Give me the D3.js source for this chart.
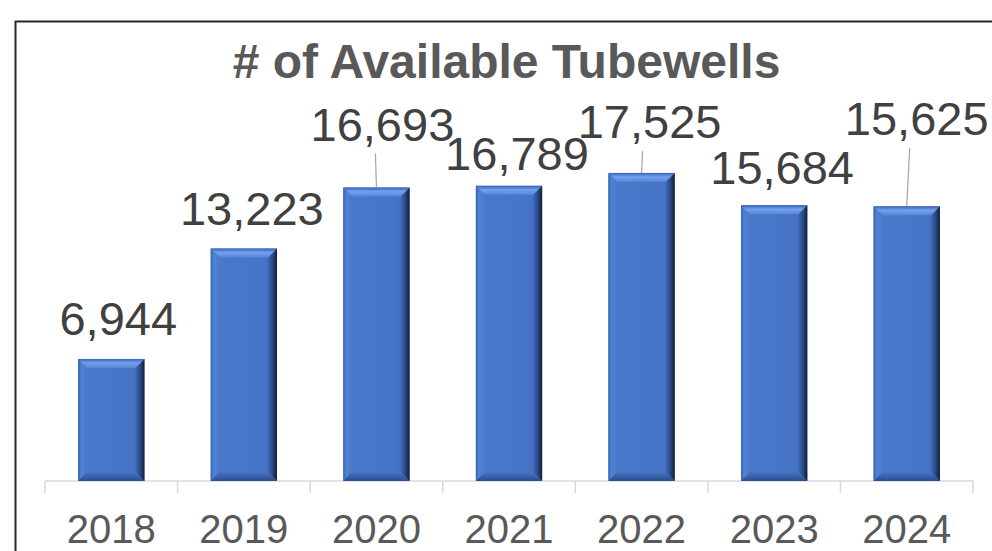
<!DOCTYPE html>
<html>
<head>
<meta charset="utf-8">
<script src="https://cdn.jsdelivr.net/npm/d3@7"></script>
<style>
  html, body { margin: 0; padding: 0; background: #fff; }
  svg { display: block; }
</style>
</head>
<body>
<svg id="chart" width="992" height="551"></svg>
<script>
// ---- data ----
const title = "# of Available Tubewells";
const years = ["2018", "2019", "2020", "2021", "2022", "2023", "2024"];
const tubewells = [6944, 13223, 16693, 16789, 17525, 15684, 15625];

// ---- layout (label placement as in the reference, relative to bar top/centre) ----
const labelDx = [7, 8, 6, 8, 8, 8, 10];
const labelDy = [-24, -24, -47, -16, -35, -21, -71];
const hasLeader = [false, false, true, false, true, false, true];

const W = 992, H = 551;
const svg = d3.select("#chart");

const x = d3.scaleBand().domain(years).range([45, 973]).paddingInner(0.5).paddingOuter(0.25);
const y = d3.scaleLinear().domain([0, 20000]).range([481, 129.4]);
const fmt = d3.format(",");

// background + border
svg.append("rect").attr("width", W).attr("height", H).attr("fill", "#fff");
svg.append("rect").attr("x", 15.5).attr("y", 21.5).attr("width", W + 20).attr("height", H + 20)
  .attr("fill", "none").attr("stroke", "#262626").attr("stroke-width", 2);

// gradients for bevelled bars
const defs = svg.append("defs");
function grad(id, x2, y2, stops) {
  const g = defs.append("linearGradient").attr("id", id)
    .attr("x1", 0).attr("y1", 0).attr("x2", x2).attr("y2", y2);
  stops.forEach(s => g.append("stop").attr("offset", s[0]).attr("stop-color", s[1]));
}
grad("gTop", 0, 1, [[0, "#3a63b5"], [0.45, "#72a1ee"], [1, "#5585d8"]]);
grad("gLeft", 1, 0, [[0, "#3863b4"], [0.35, "#5282d4"], [1, "#4a79cc"]]);
grad("gRight", 1, 0, [[0, "#3f69b8"], [0.5, "#2b4b88"], [1, "#111d38"]]);
grad("gBot", 0, 1, [[0, "#4674c4"], [1, "#2c4d8e"]]);
grad("gFace", 1, 0, [[0, "#4a79cc"], [0.8, "#4674c7"], [1, "#3f69b8"]]);

// axis line + ticks
const axisG = svg.append("g");
axisG.append("line")
  .attr("x1", x.range()[0]).attr("x2", x.range()[1])
  .attr("y1", y(0)).attr("y2", y(0))
  .attr("stroke", "#d9d9d9").attr("stroke-width", 1.5);
const gapHalf = (x.step() - x.bandwidth()) / 2;
const tickXs = years.map(d => x(d) - gapHalf).concat([x(years[years.length - 1]) + x.bandwidth() + gapHalf]);
axisG.selectAll("line.tick").data(tickXs).join("line").attr("class", "tick")
  .attr("x1", d => d).attr("x2", d => d)
  .attr("y1", y(0)).attr("y2", y(0) + 12)
  .attr("stroke", "#d9d9d9").attr("stroke-width", 1.5);
axisG.selectAll("text").data(years).join("text")
  .attr("x", d => x(d) + x.bandwidth() / 2)
  .attr("y", 543)
  .attr("text-anchor", "middle")
  .attr("font-family", "Liberation Sans, Arial, sans-serif")
  .attr("font-size", 40)
  .attr("fill", "#595959")
  .text(d => d);

// bars
const b = 9;
const data = years.map((d, i) => ({ year: d, v: tubewells[i], i }));
const bars = svg.append("g").selectAll("g").data(data).join("g");
bars.each(function (d) {
  const g = d3.select(this);
  const x0 = x(d.year), w = x.bandwidth(), y0 = y(d.v), h = y(0) - y(d.v);
  const x1 = x0 + w, y1 = y0 + h;
  g.append("rect").attr("x", x0).attr("y", y0).attr("width", w).attr("height", h).attr("fill", "url(#gFace)");
  const poly = (pts, fill) => g.append("polygon").attr("points", pts.map(p => p.join(",")).join(" ")).attr("fill", fill);
  poly([[x0, y0], [x0 + b, y0 + b], [x0 + b, y1 - b], [x0, y1]], "url(#gLeft)");
  poly([[x1, y0], [x1, y1], [x1 - b, y1 - b], [x1 - b, y0 + b]], "url(#gRight)");
  poly([[x0, y1], [x0 + b, y1 - b], [x1 - b, y1 - b], [x1, y1]], "url(#gBot)");
  poly([[x0, y0], [x1, y0], [x1 - b, y0 + b], [x0 + b, y0 + b]], "url(#gTop)");
});

// leader lines
svg.append("g").selectAll("line").data(data.filter(d => hasLeader[d.i])).join("line")
  .attr("x1", d => x(d.year) + x.bandwidth() / 2 + labelDx[d.i] - 7)
  .attr("y1", d => y(d.v) + labelDy[d.i] + 13)
  .attr("x2", d => x(d.year) + x.bandwidth() / 2)
  .attr("y2", d => y(d.v))
  .attr("stroke", "#a6a6a6").attr("stroke-width", 1.2);

// data labels
svg.append("g").selectAll("text").data(data).join("text")
  .attr("x", d => x(d.year) + x.bandwidth() / 2 + labelDx[d.i])
  .attr("y", d => y(d.v) + labelDy[d.i])
  .attr("text-anchor", "middle")
  .attr("font-family", "Liberation Sans, Arial, sans-serif")
  .attr("font-size", 47)
  .attr("fill", "#404040")
  .text(d => fmt(d.v));

// title
svg.append("text")
  .attr("x", 506.5).attr("y", 78)
  .attr("text-anchor", "middle")
  .attr("font-family", "Liberation Sans, Arial, sans-serif")
  .attr("font-weight", "bold")
  .attr("font-size", 48)
  .attr("fill", "#595959")
  .text(title);
</script>
</body>
</html>
